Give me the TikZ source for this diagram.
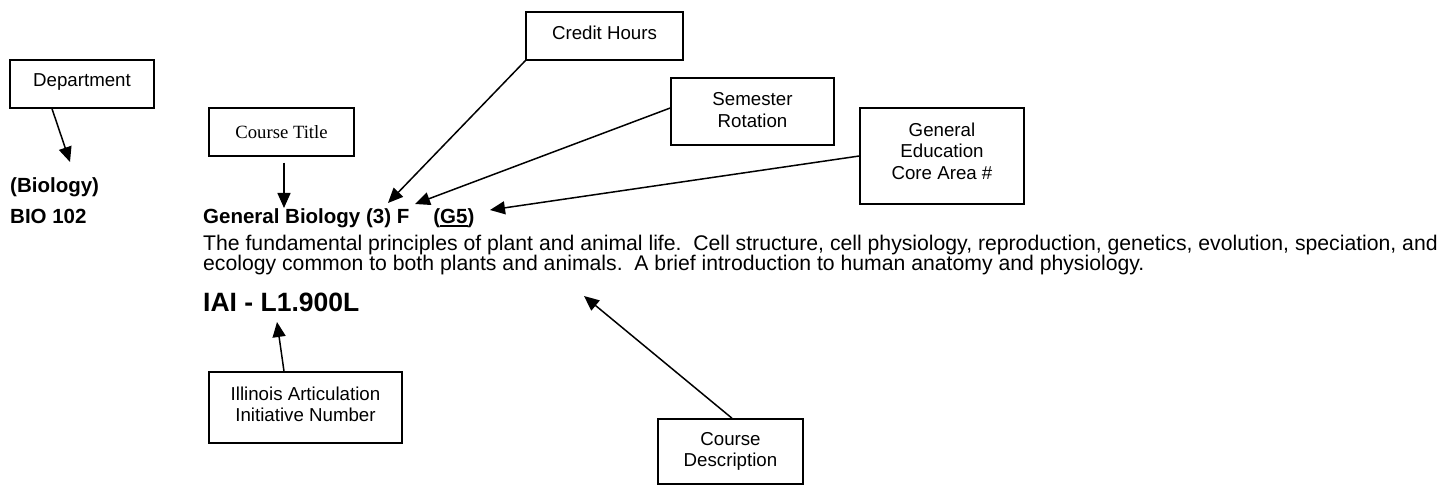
\documentclass[tikz,border=0pt]{standalone}
\usepackage{fontspec}
\setmainfont{Liberation Sans}
\newfontfamily\timesf{Liberation Serif}
\usetikzlibrary{arrows.meta}
\newcommand\myul[1]{\setbox0\hbox{#1}\rlap{\rule[-2.6pt]{\wd0}{1.5pt}}\box0}
\begin{document}
\begin{tikzpicture}[x=1pt,y=-1pt,
  box/.style={draw, line width=1.5pt, inner sep=0pt, align=center,
    font=\fontsize{18.7}{21.5}\selectfont},
  arr/.style={line width=1.5pt, -{Triangle[length=15pt,width=13pt]}},
  head/.style={inner sep=0pt, anchor=base west, font=\fontsize{20.5}{24}\selectfont\bfseries},
  body/.style={inner sep=0pt, anchor=base west, font=\fontsize{21.2}{20}\selectfont},
  iai/.style={inner sep=0pt, anchor=base west, font=\fontsize{26.5}{30}\selectfont\bfseries}]
\useasboundingbox (0,0) rectangle (1448,486);
\fill[white] (0,0) rectangle (1448,486);

% label boxes
\node[box, minimum width=144pt, minimum height=48pt, text depth=8pt] (dept) at (82,84) {Department};
\node[box, minimum width=145pt, minimum height=48pt, font=\fontsize{18.7}{21.5}\selectfont\timesf] (ct) at (281.5,132) {Course Title};
\node[box, minimum width=157pt, minimum height=48pt, text depth=6pt] (credit) at (604.5,36) {Credit Hours};
\node[box, minimum width=163pt, minimum height=67pt, text depth=3pt] (sem) at (752.5,111.5) {Semester\\Rotation};
\node[box, minimum width=164pt, minimum height=96pt, text depth=10pt] (gened) at (942,156) {General\\Education\\Core Area \#};
\node[box, minimum width=193pt, minimum height=71pt, text depth=7pt] (iainum) at (305.5,407.5) {Illinois Articulation\\Initiative Number};
\node[box, minimum width=145pt, minimum height=65pt] (cd) at (730.5,451.5) {Course\\Description};

% catalogue text
\node[head] (biology) at (10,193) {(Biology)};
\node[head] (bio102) at (10,224) {BIO 102};
\node[head] (title) at (203,224) {General Biology (3) F\hspace{24pt}(\myul{G5})};
\node[body] (line1) at (203,250.5) {The fundamental principles of plant and animal life.\ \ Cell structure, cell physiology, reproduction, genetics, evolution, speciation, and};
\node[body] (line2) at (203,270.5) {ecology common to both plants and animals.\ \ A brief introduction to human anatomy and physiology.};
\node[iai] (iai) at (203,311.5) {IAI - L1.900L};

% arrow end points
\coordinate (tDept) at (70,162);
\coordinate (tCT) at (284,208);
\coordinate (tCredit) at (388,203);
\coordinate (tSem) at (415,204);
\coordinate (tGen) at (490,210);
\coordinate (tIAI) at (277,322);
\coordinate (tCD) at (584,296);

% connectors
\draw[arr] ([xshift=-30pt]dept.south) -- (tDept);
\draw[arr] ([shift={(2.5,6)}]ct.south) -- (tCT);
\draw[arr] (credit.south west) -- (tCredit);
\draw[arr] ([yshift=3.5pt]sem.west) -- (tSem);
\draw[arr] (gened.west) -- (tGen);
\draw[arr] ([xshift=-21.5pt]iainum.north) -- (tIAI);
\draw[arr] ([xshift=1.5pt]cd.north) -- (tCD);
\end{tikzpicture}
\end{document}
